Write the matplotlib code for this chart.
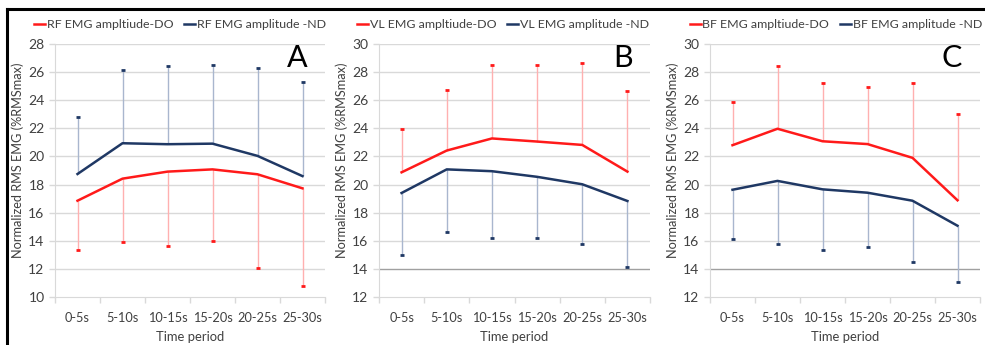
import matplotlib
matplotlib.use("Agg")
import matplotlib.pyplot as plt
from matplotlib.lines import Line2D
import numpy as np

plt.rcParams['font.family'] = ['Lato', 'DejaVu Sans']

categories = ["0-5s", "5-10s", "10-15s", "15-20s", "20-25s", "25-30s"]

# Panel A (RF)
rf_do_mean = [16.85, 18.42, 18.92, 19.08, 18.73, 17.73]
rf_do_err_end = [13.33, 13.93, 13.64, 13.97, 12.05, 10.81]   # lower whisker end
rf_nd_mean = [18.75, 20.94, 20.87, 20.91, 20.04, 18.60]
rf_nd_err_end = [22.79, 26.14, 26.40, 26.52, 26.31, 25.29]   # upper whisker end

# Panel B (VL)
vl_do_mean = [20.87, 22.42, 23.28, 23.06, 22.82, 20.92]
vl_do_err_end = [23.93, 26.76, 28.52, 28.48, 28.67, 26.64]
vl_nd_mean = [19.40, 21.08, 20.95, 20.55, 20.02, 18.83]
vl_nd_err_end = [15.02, 16.64, 16.21, 16.21, 15.76, 14.12]

# Panel C (BF)
bf_do_mean = [22.80, 23.97, 23.08, 22.88, 21.90, 18.88]
bf_do_err_end = [25.86, 28.40, 27.21, 26.95, 27.19, 25.00]
bf_nd_mean = [19.63, 20.26, 19.66, 19.42, 18.85, 17.07]
bf_nd_err_end = [16.16, 15.78, 15.33, 15.54, 14.52, 13.04]

legend_do = ["RF EMG ampltiude-DO", "VL EMG ampltiude-DO", "BF EMG ampltiude-DO"]
legend_nd = ["RF EMG amplitude -ND", "VL EMG amplitude -ND", "BF EMG amplitude -ND"]
letters = ["A", "B", "C"]
ylims = [(10, 28), (12, 30), (12, 30)]
ytick_steps = [2, 2, 2]

RED = "#FF1A1A"
NAVY = "#1F3864"
RED_LIGHT = "#FFB0B0"
NAVY_LIGHT = "#A9B6CE"
GRID = "#D9D9D9"
TXT = "#404040"

W, H = 985, 345
fig = plt.figure(figsize=(W / 100, H / 100), dpi=100)

panels = [
    (rf_do_mean, rf_do_err_end, rf_nd_mean, rf_nd_err_end),
    (vl_do_mean, vl_do_err_end, vl_nd_mean, vl_nd_err_end),
    (bf_do_mean, bf_do_err_end, bf_nd_mean, bf_nd_err_end),
]
lefts = [55, 379, 710]
widths = [270, 271, 270]
top_px, bot_px = 44, 297
letter_x = [297, 623, 952]
legend_cx = [180, 503, 836]
ylabel_x = [24, 348, 679]

for i, (do_m, do_e, nd_m, nd_e) in enumerate(panels):
    l = lefts[i]; w = widths[i]
    ax = fig.add_axes([l / W, (H - bot_px) / H, w / W, (bot_px - top_px) / H])
    x = np.arange(len(categories))
    ymin, ymax = ylims[i]
    ax.set_xlim(-0.5, len(categories) - 0.5)
    ax.set_ylim(ymin, ymax)
    yt = np.arange(ymin, ymax + 0.1, ytick_steps[i])
    ax.set_yticks(yt)
    ax.set_yticklabels([str(int(v)) for v in yt])
    for v in yt[1:]:
        c = GRID
        if i > 0 and v == 14:
            c = "#A0A0A0"
        ax.axhline(v, color=c, lw=1.0, zorder=0)

    # error bars (one-sided)
    ax.vlines(x, do_m, do_e, color=RED_LIGHT, lw=1.0, zorder=1)
    ax.vlines(x, nd_m, nd_e, color=NAVY_LIGHT, lw=1.0, zorder=1)
    ax.plot(x, do_e, ls="none", marker="_", ms=3.0, mew=2.0, color=RED, zorder=2)
    ax.plot(x, nd_e, ls="none", marker="_", ms=3.0, mew=2.0, color=NAVY, zorder=2)

    ax.plot(x, do_m, color=RED, lw=1.8, zorder=3, label=legend_do[i])
    ax.plot(x, nd_m, color=NAVY, lw=1.8, zorder=3, label=legend_nd[i])

    for s in ["top", "right"]:
        ax.spines[s].set_visible(False)
    ax.spines["left"].set_color(GRID)
    ax.spines["bottom"].set_color(GRID)
    ax.tick_params(axis="y", direction="out", length=4.5, width=1, color=GRID,
                   labelsize=10, labelcolor=TXT, pad=3)
    ax.set_xticks(np.arange(-0.5, len(categories), 1.0))
    ax.set_xticklabels([])
    ax.set_xticks(x, minor=True)
    ax.set_xticklabels(categories, minor=True)
    ax.tick_params(axis="x", which="major", direction="out", length=4.5, width=1, color=GRID)
    ax.tick_params(axis="x", which="minor", length=0, labelsize=9.2, labelcolor=TXT, pad=11)

    ax.set_ylabel("Normalized RMS EMG (%RMSmax)", fontsize=9.2, color=TXT)
    ax.yaxis.set_label_coords(-(l - ylabel_x[i]) / w, 0.54)
    ax.set_xlabel("Time period", fontsize=9.4, color=TXT, va="top")
    ax.xaxis.set_label_coords(0.5, -(331 - bot_px) / (bot_px - top_px))

    ax.text((letter_x[i] - l) / w, (bot_px - 58) / (bot_px - top_px), letters[i],
            transform=ax.transAxes, ha="center", va="center", fontsize=22, color="black")

    leg = ax.legend(loc="center", bbox_to_anchor=((legend_cx[i] - l) / w, (bot_px - 25) / (bot_px - top_px)),
                    ncol=2, frameon=False, fontsize=8.9, handlelength=0.9, handletextpad=0.1,
                    columnspacing=0.9, borderaxespad=0, borderpad=0)
    for t in leg.get_texts():
        t.set_color(TXT)

# outer black border (top and left)
fig.add_artist(Line2D([7 / W, 1.0], [1 - 8.5 / H, 1 - 8.5 / H], color="black", lw=2.2,
                      transform=fig.transFigure))
fig.add_artist(Line2D([7 / W, 7 / W], [0, 1 - 8.5 / H], color="black", lw=2.2,
                      transform=fig.transFigure))

fig.savefig("out.png", dpi=100)
